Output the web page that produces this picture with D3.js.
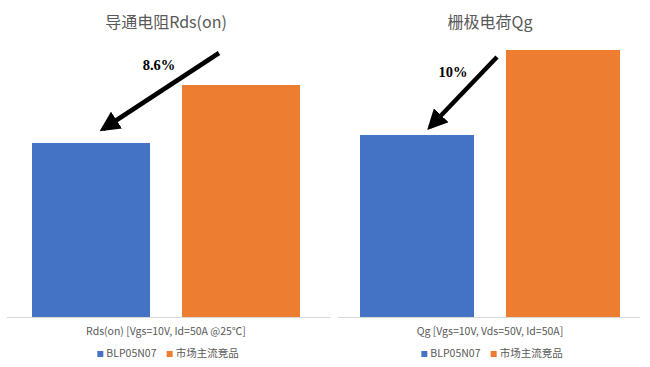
<!DOCTYPE html>
<html lang="zh">
<head>
<meta charset="UTF-8">
<title>Rds(on) / Qg</title>
<style>
  body { margin: 0; background: #fff; }
  svg { display: block; font-family: "Noto Sans CJK SC", "Noto Sans", sans-serif; }
  .title { font-size: 16px; fill: #595959; }
  .xlabel { font-size: 10.5px; fill: #595959; }
  .legend text { font-size: 10.5px; fill: #595959; }
  .pct { font-family: "Liberation Serif", "DejaVu Serif", serif; font-weight: bold; font-size: 14.5px; fill: #000; }
</style>
</head>
<body>
<svg id="chart" width="650" height="367"></svg>
<script src="https://d3js.org/d3.v7.min.js"></script>
<script>
// data (relative bar heights)
const series = ["BLP05N07", "市场主流竞品"];
const colors = ["#4472C4", "#ED7D31"];
const titles = ["导通电阻Rds(on)", "栅极电荷Qg"];
const xLabels = ["Rds(on) [Vgs=10V, Id=50A @25℃]", "Qg [Vgs=10V, Vds=50V, Id=50A]"];
const rdsValues = [174, 232];
const qgValues = [182, 267];
const diffLabels = ["8.6%", "10%"];

const panels = [
  { title: titles[0], label: xLabels[0], values: rdsValues, diff: diffLabels[0],
    x0: 7, x1: 331, bandL: 32, bandR: 300, pad: 0.213, arrow: [[219, 53], [103, 129]], pct: [159, 70] },
  { title: titles[1], label: xLabels[1], values: qgValues, diff: diffLabels[1],
    x0: 338, x1: 640, bandL: 360, bandR: 620, pad: 0.219, arrow: [[497, 57], [430, 127]], pct: [453, 77] }
];

const svg = d3.select("#chart");
const baseY = 317;
const y = d3.scaleLinear().domain([0, 300]).range([baseY, 17]);

svg.append("defs").append("marker")
  .attr("id", "head")
  .attr("viewBox", "0 0 10 10")
  .attr("refX", 8).attr("refY", 5)
  .attr("markerWidth", 4.5).attr("markerHeight", 4.5)
  .attr("orient", "auto")
  .append("path").attr("d", "M0,0 L10,5 L0,10 Z").attr("fill", "#000");

panels.forEach(p => {
  const g = svg.append("g");
  const cx = (p.bandL + p.bandR) / 2;

  const x = d3.scaleBand().domain(series).range([p.bandL, p.bandR]).paddingInner(p.pad).paddingOuter(0);

  g.append("line")
    .attr("x1", p.x0).attr("x2", p.x1)
    .attr("y1", baseY + 0.5).attr("y2", baseY + 0.5)
    .attr("stroke", "#d9d9d9").attr("stroke-width", 1);

  g.selectAll("rect.bar")
    .data(p.values)
    .join("rect")
    .attr("class", "bar")
    .attr("x", (d, i) => x(series[i]))
    .attr("width", x.bandwidth())
    .attr("y", d => y(d))
    .attr("height", d => y(0) - y(d))
    .attr("fill", (d, i) => colors[i]);

  g.append("text").attr("class", "title")
    .attr("x", cx).attr("y", 28).attr("text-anchor", "middle")
    .text(p.title);

  g.append("text").attr("class", "xlabel")
    .attr("x", cx).attr("y", 335).attr("text-anchor", "middle")
    .text(p.label);

  // arrow + percentage
  g.append("line")
    .attr("x1", p.arrow[0][0]).attr("y1", p.arrow[0][1])
    .attr("x2", p.arrow[1][0]).attr("y2", p.arrow[1][1])
    .attr("stroke", "#000").attr("stroke-width", 4.5)
    .attr("marker-end", "url(#head)");

  g.append("text").attr("class", "pct")
    .attr("x", p.pct[0]).attr("y", p.pct[1]).attr("text-anchor", "middle")
    .text(p.diff);

  // legend
  const lg = g.append("g").attr("class", "legend");
  const item = lg.selectAll("g").data(series).join("g");
  item.append("rect").attr("width", 6).attr("height", 6).attr("y", -6)
    .attr("fill", (d, i) => colors[i]);
  item.append("text").attr("x", 9).attr("y", 0).text(d => d);
  let off = 0;
  item.each(function () {
    d3.select(this).attr("transform", `translate(${off},0)`);
    off += this.getBBox().width + 10;
  });
  const w = off - 10;
  lg.attr("transform", `translate(${cx - w / 2 + 2},${357})`);
});
</script>
</body>
</html>
